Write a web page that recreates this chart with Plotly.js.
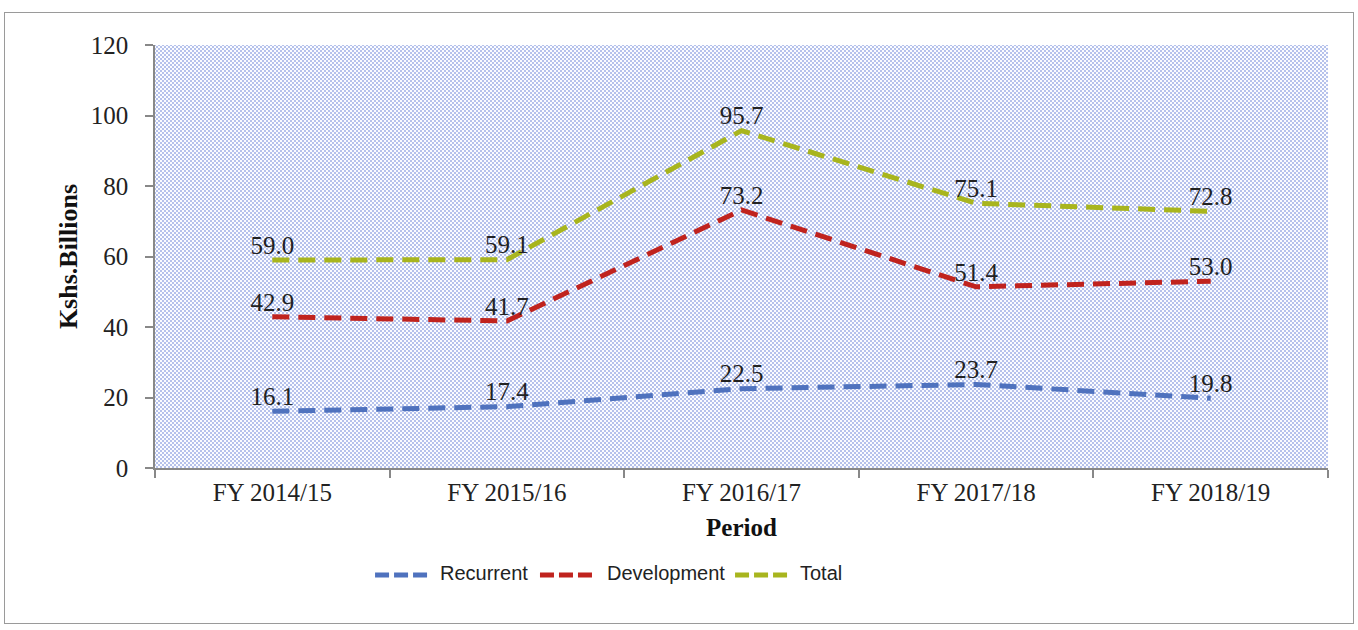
<!DOCTYPE html>
<html>
<head>
<meta charset="utf-8">
<script src="https://cdn.plot.ly/plotly-3.0.1.min.js"></script>
<style>
html,body{margin:0;padding:0;background:#fff;}
#wrap{position:relative;width:1358px;height:630px;}
#dots{position:absolute;left:155px;top:45px;width:1173px;height:423px;background-color:#fbfcff;
  background-image:radial-gradient(circle, #8d9ee0 0.5px, rgba(141,158,224,0) 1.05px),radial-gradient(circle, #8d9ee0 0.5px, rgba(141,158,224,0) 1.05px);
  background-size:4px 4px,4px 4px;background-position:0 0,2px 2px;}
#chart{position:absolute;left:0;top:0;width:1358px;height:630px;}
#frame{position:absolute;left:4px;top:12px;width:1350px;height:612px;border:1.5px solid #9a9a9a;box-sizing:border-box;pointer-events:none;}
</style>
</head>
<body>
<div id="wrap">
<div id="dots"></div>
<div id="chart"></div>
<div id="frame"></div>
</div>
<script>
const periods = ["FY 2014/15", "FY 2015/16", "FY 2016/17", "FY 2017/18", "FY 2018/19"];
const recurrent = [16.1, 17.4, 22.5, 23.7, 19.8];
const development = [42.9, 41.7, 73.2, 51.4, 53.0];
const total = [59.0, 59.1, 95.7, 75.1, 72.8];

const seriesNames = ["Recurrent", "Development", "Total"];
const seriesColors = ["#4f72be", "#c0231e", "#a8b51e"];
const seriesValues = [recurrent, development, total];

const serif = "Liberation Serif, Times New Roman, serif";
const sans = "Liberation Sans, Arial, sans-serif";

const traces = seriesValues.map((vals, i) => ({
  type: "scatter",
  mode: "lines+text",
  name: seriesNames[i],
  x: periods,
  y: vals,
  text: vals.map(v => v.toFixed(1)),
  textposition: "top center",
  textfont: {family: serif, size: 25, color: "#222"},
  line: {color: seriesColors[i], width: 5, dash: "17px,9px"},
  hoverinfo: "x+y",
  showlegend: false
}));

// custom legend (swatch start, swatch end, text start) in paper coordinates
const legendSlots = [[0.1876, 0.2327, 0.2413], [0.3282, 0.3734, 0.3836], [0.4945, 0.5396, 0.5482]];
const legendY = -0.253;
const shapes = legendSlots.map((s, i) => ({
  type: "line", xref: "paper", yref: "paper",
  x0: s[0], x1: s[1], y0: legendY, y1: legendY,
  line: {color: seriesColors[i], width: 5, dash: "14px,5px"}
}));
const annotations = legendSlots.map((s, i) => ({
  xref: "paper", yref: "paper", x: s[2], y: legendY + 0.004,
  xanchor: "left", yanchor: "middle", showarrow: false,
  text: seriesNames[i], font: {family: sans, size: 20, color: "#222"}
}));

const layout = {
  width: 1358,
  height: 630,
  margin: {l: 155, r: 30, t: 45, b: 162},
  paper_bgcolor: "rgba(0,0,0,0)",
  plot_bgcolor: "rgba(0,0,0,0)",
  font: {family: serif, size: 25, color: "#222"},
  showlegend: false,
  shapes: shapes,
  annotations: annotations,
  xaxis: {
    type: "category",
    range: [-0.5, 4.5],
    tickson: "boundaries",
    ticks: "outside",
    ticklen: 8,
    tickcolor: "#888",
    tickwidth: 1.5,
    showline: true,
    linecolor: "#888",
    linewidth: 1.5,
    showgrid: false,
    zeroline: false,
    ticklabelstandoff: 1,
    tickfont: {family: serif, size: 25, color: "#222"},
    title: {text: "<b>Period</b>", font: {family: serif, size: 25, color: "#111"}, standoff: 14}
  },
  yaxis: {
    range: [0, 120],
    dtick: 20,
    ticks: "outside",
    ticklen: 8,
    tickcolor: "#888",
    tickwidth: 1.5,
    showline: true,
    linecolor: "#888",
    linewidth: 1.5,
    showgrid: false,
    zeroline: false,
    ticklabelstandoff: 12,
    tickfont: {family: serif, size: 25, color: "#222"},
    title: {text: "<b>Kshs.Billions</b>", font: {family: serif, size: 26, color: "#111"}, standoff: 6}
  }
};

Plotly.newPlot("chart", traces, layout, {displayModeBar: false, responsive: false});
</script>
</body>
</html>
